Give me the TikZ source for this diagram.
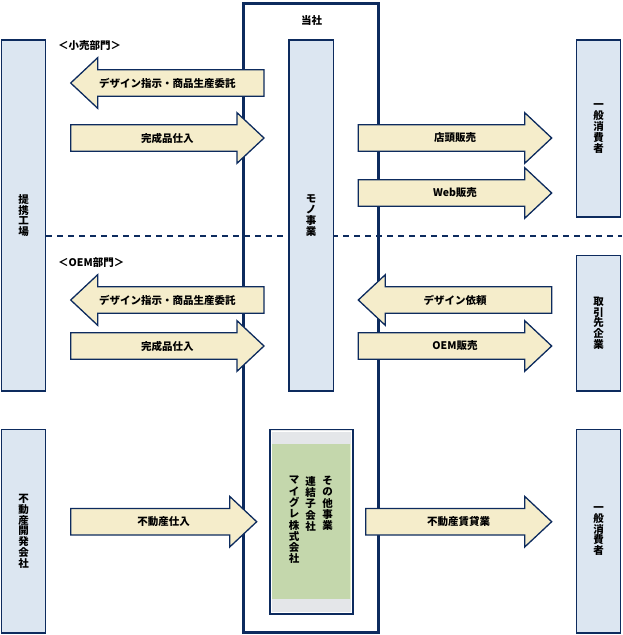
\documentclass[tikz,border=0pt]{standalone}
\usepackage{fontspec}
\setmainfont{Noto Sans CJK JP}
\definecolor{navy}{HTML}{0D2B5E}
\definecolor{boxblue}{HTML}{DCE6F1}
\definecolor{cream}{HTML}{F5EDCB}
\definecolor{grn}{HTML}{C4D7AC}
\definecolor{grn line}{HTML}{E6F0C8}
\definecolor{stripgrey}{HTML}{E4E6E9}
\newcommand\vfont{\fontsize{10.5}{10.8}\selectfont\bfseries}
\newcommand\gfont{\fontsize{10.5}{11.3}\selectfont\bfseries}
\newcommand\lfont{\fontsize{10.5}{12}\selectfont\bfseries}
\tikzset{
  ent/.style={draw=navy, line width=1.4pt, fill=boxblue, inner sep=0pt, align=center, font=\vfont},
  blockarrow/.style={draw=navy, line width=1.3pt, fill=cream, line join=miter},
  lbl/.style={font=\lfont, inner sep=0pt},
  frameline/.style={draw=navy, line width=3pt, inner sep=0pt},
  divider/.style={draw=navy, line width=1.8pt, dash pattern=on 6pt off 5pt},
}
% name, x left, x right, y centre, label
\newcommand\RArrow[5]{%
  \draw[blockarrow] (#2,#4-13.3) -- (#3-27,#4-13.3) -- (#3-27,#4-25.3) -- (#3,#4)
    -- (#3-27,#4+25.3) -- (#3-27,#4+13.3) -- (#2,#4+13.3) -- cycle;
  \node[lbl] (#1) at ({(#2+#3)/2},#4) {#5};}
\newcommand\LArrow[5]{%
  \draw[blockarrow] (#3,#4-13.3) -- (#2+27,#4-13.3) -- (#2+27,#4-25.3) -- (#2,#4)
    -- (#2+27,#4+25.3) -- (#2+27,#4+13.3) -- (#3,#4+13.3) -- cycle;
  \node[lbl] (#1) at ({(#2+#3)/2},#4) {#5};}
\begin{document}
\begin{tikzpicture}[x=1pt,y=-1pt]
\useasboundingbox (0,0) rectangle (622,635);
% dashed divider
\coordinate (dashL) at (46,236);
\coordinate (dashR) at (622,236);
\draw[divider] (dashL) -- (dashR);
% company frame
\node[frameline, minimum width=135pt, minimum height=629pt] (frame) at (311,317.5) {};
\node[lbl] (tosha) at (311.5,21) {当社};
% boxes
\node[ent, minimum width=44pt, minimum height=351pt] (kojo) at (23.5,215.5) {提\\携\\工\\場};
\node[ent, minimum width=44.5pt, minimum height=351pt] (mono) at (311.2,215.5) {モ\\ノ\\事\\業};
\node[ent, minimum width=44pt, minimum height=177pt] (shohiA) at (598.5,128.5) {一\\般\\消\\費\\者};
\node[ent, minimum width=44pt, minimum height=135.5pt] (torihiki) at (598.5,323.2) {取\\引\\先\\企\\業};
\node[ent, minimum width=44pt, minimum height=203.5pt] (fudosan) at (23.5,531.2) {不\\動\\産\\開\\発\\会\\社};
\node[ent, minimum width=44pt, minimum height=203.5pt] (shohiB) at (598.5,531.2) {一\\般\\消\\費\\者};
% subsidiary box
\node[draw=navy, line width=1.4pt, fill=stripgrey, inner sep=0pt, minimum width=83pt, minimum height=184.5pt] (sub) at (311.5,521.7) {};
\draw[white, line width=0.8pt] (271.5,431) rectangle (351.5,612.7);
\fill[grn] (272.2,444) rectangle (350.8,599);
\draw[grn line, line width=0.7pt] (350.8,444) -- (350.8,599);
\node[anchor=north, inner sep=0pt, align=center, font=\gfont] (sonota) at (327.5,476) {そ\\の\\他\\事\\業};
\node[anchor=north, inner sep=0pt, align=center, font=\gfont] (renketsu) at (310.5,476) {連\\結\\子\\会\\社};
\node[anchor=north, inner sep=0pt, align=center, font=\gfont] (migre) at (294,476) {マ\\イ\\グ\\レ\\株\\式\\会\\社};
% section labels
\node[lbl, anchor=west] (kouri) at (58,45.5) {＜小売部門＞};
\node[lbl, anchor=west] (oem) at (58,263) {＜OEM部門＞};
% arrows
\LArrow{a1}{70.7}{264}{83}{デザイン指示・商品生産委託}
\RArrow{a2}{70.7}{264}{138}{完成品仕入}
\RArrow{a3}{358.3}{551.7}{138}{店頭販売}
\RArrow{a4}{358.3}{551.7}{193}{Web販売}
\LArrow{a5}{70.7}{264}{300}{デザイン指示・商品生産委託}
\RArrow{a6}{70.7}{264}{346}{完成品仕入}
\LArrow{a7}{358.3}{551.7}{300}{デザイン依頼}
\RArrow{a8}{358.3}{551.7}{346}{OEM販売}
\RArrow{a9}{70.7}{256.7}{521.7}{不動産仕入}
\RArrow{a10}{365.7}{551.7}{521.7}{不動産賃貸業}
\end{tikzpicture}
\end{document}
